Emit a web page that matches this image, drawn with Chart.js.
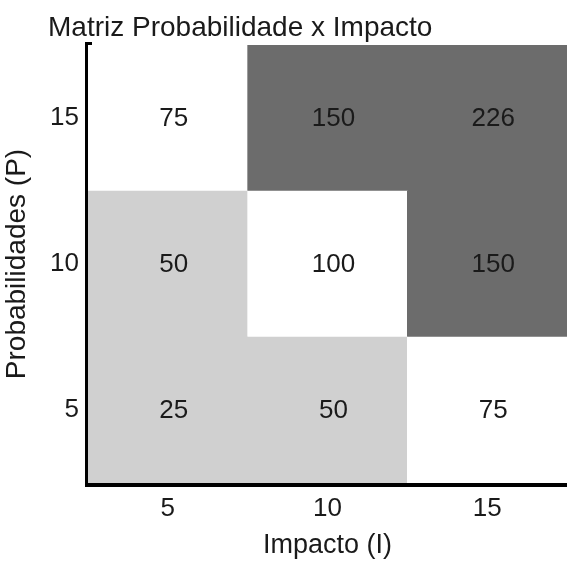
<!DOCTYPE html>
<html><head><meta charset="utf-8">
<script src="https://cdn.jsdelivr.net/npm/chart.js@4.4.1/dist/chart.umd.min.js"></script>
<style>html,body{margin:0;padding:0;background:#fff}#wrap{width:567px;height:564px;position:relative}</style>
</head><body><div id="wrap"><canvas id="c"></canvas></div>
<script>
// ---- data ----
const impacto = ['5', '10', '15'];
const probabilidades = [5, 10, 15];
const valoresP5 = [25, 50, 75];
const valoresP10 = [50, 100, 150];
const valoresP15 = [75, 150, 226];
const niveisP5 = ['baixo', 'baixo', 'medio'];
const niveisP10 = ['baixo', 'medio', 'alto'];
const niveisP15 = ['medio', 'alto', 'alto'];
const yTicks = [5, 10, 15];
const titulo = 'Matriz Probabilidade x Impacto';
const tituloX = 'Impacto (I)';
const tituloY = 'Probabilidades (P)';

// ---- styles ----
const FONT = '"Liberation Sans", Arial, Helvetica, sans-serif';
const cores = { baixo: '#d0d0d0', medio: '#ffffff', alto: '#6c6c6c' };
const meio = 2.5;

const linhas = [
  { p: probabilidades[0], v: valoresP5, n: niveisP5 },
  { p: probabilidades[1], v: valoresP10, n: niveisP10 },
  { p: probabilidades[2], v: valoresP15, n: niveisP15 }
];

const datasets = linhas.map(l => ({
  label: 'P=' + l.p,
  data: l.v.map(() => [l.p - meio, l.p + meio]),
  valores: l.v,
  backgroundColor: l.n.map(k => cores[k]),
  borderWidth: 0,
  categoryPercentage: 1.0,
  barPercentage: 1.0
}));

const cellLabels = {
  id: 'cellLabels',
  afterDatasetsDraw(chart) {
    const ctx = chart.ctx;
    ctx.save();
    ctx.font = '26px ' + FONT;
    ctx.fillStyle = '#1a1a1a';
    ctx.textAlign = 'center';
    ctx.textBaseline = 'middle';
    chart.data.datasets.forEach((ds, i) => {
      chart.getDatasetMeta(i).data.forEach((el, j) => {
        ctx.fillText(String(ds.valores[j]), el.x + 6, (el.y + el.base) / 2 + 1);
      });
    });
    ctx.restore();
  }
};

const topTitle = {
  id: 'topTitle',
  afterDraw(chart) {
    const ctx = chart.ctx;
    ctx.save();
    ctx.font = '28px ' + FONT;
    ctx.fillStyle = '#1a1a1a';
    ctx.textAlign = 'left';
    ctx.textBaseline = 'alphabetic';
    ctx.fillText(titulo, 48, 36);
    ctx.restore();
  }
};

new Chart(document.getElementById('c'), {
  type: 'bar',
  data: { labels: impacto, datasets },
  plugins: [cellLabels, topTitle],
  options: {
    responsive: true,
    maintainAspectRatio: false,
    animation: false,
    layout: { padding: { top: 45, right: 0, left: 0, bottom: 0 } },
    plugins: { legend: { display: false }, tooltip: { enabled: false }, title: { display: false } },
    scales: {
      x: {
        stacked: true,
        offset: true,
        z: 1,
        grid: { display: false, drawTicks: false },
        border: { display: true, color: '#000', width: 7 },
        ticks: { color: '#1a1a1a', font: { family: FONT, size: 26 }, padding: 10 },
        title: { display: true, text: tituloX, color: '#1a1a1a', font: { family: FONT, size: 27 }, padding: { top: 0, bottom: 2 } },
        afterFit(s) { s.height = 81; }
      },
      y: {
        stacked: false,
        min: 2.5,
        max: 17.5,
        z: 1,
        grid: { display: false, drawTicks: false },
        border: { display: true, color: '#000', width: 7 },
        ticks: { color: '#1a1a1a', font: { family: FONT, size: 26 }, padding: 9 },
        afterBuildTicks(s) { s.ticks = yTicks.map(v => ({ value: v })); },
        title: { display: true, text: tituloY, color: '#1a1a1a', font: { family: FONT, size: 28 }, padding: { top: 0, bottom: 0 } },
        afterFit(s) { s.width = 88; }
      }
    }
  }
});
</script>
</body></html>
